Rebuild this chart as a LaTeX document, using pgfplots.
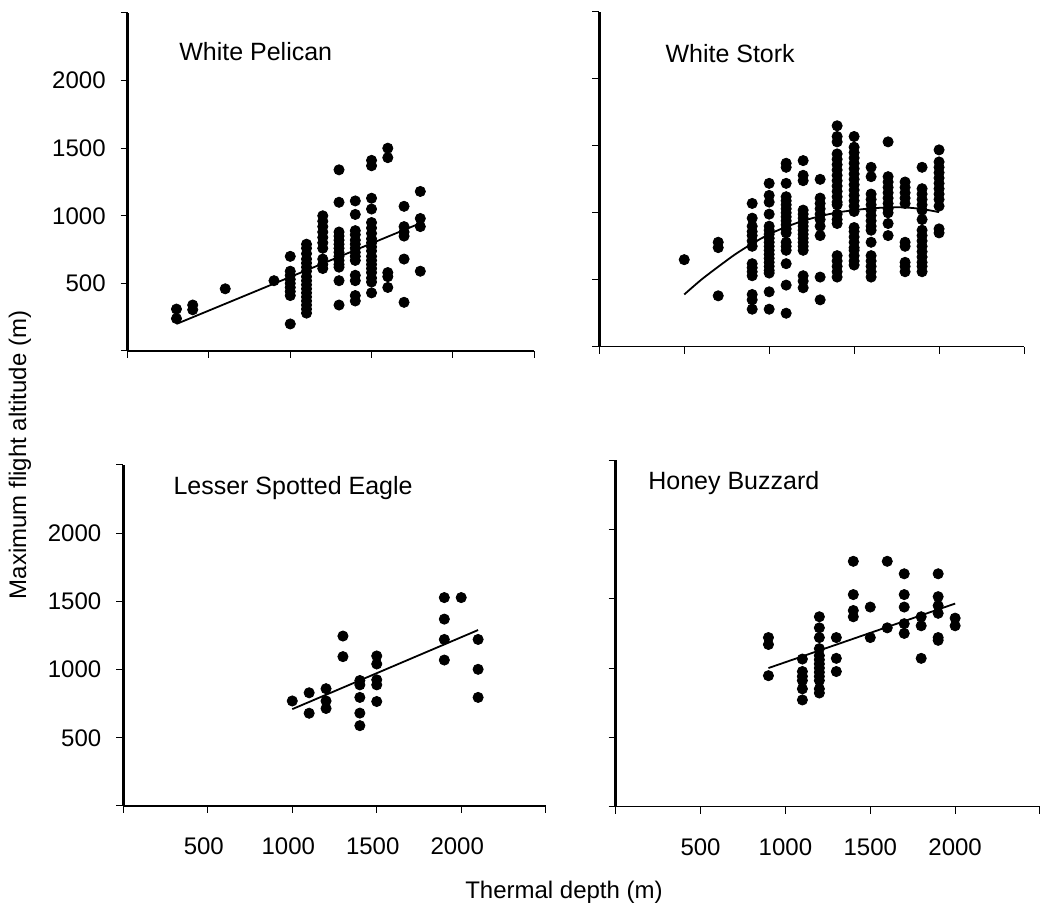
\documentclass[border=0pt]{standalone}
\usepackage{pgfplots}
\pgfplotsset{compat=1.18}
\usepackage{fontspec}
\setmainfont{Liberation Sans}

\pgfplotsset{
  panel/.style={
    scale only axis,
    xmin=0, xmax=2500, ymin=0, ymax=2500,
    axis x line*=bottom, axis y line*=left,
    xtick={0,500,...,2500}, ytick={0,500,...,2500},
    tick align=outside,
    major tick length=3.5pt,
    tick style={black, line width=0.5pt},
    x axis line style={line width=0.6pt},
    y axis line style={line width=1.3pt},
    xticklabels={}, yticklabels={},
    tick label style={font=\fontsize{12}{14}\selectfont},
    xticklabel style={yshift=-9pt},
    yticklabel style={xshift=-4pt},
    clip=false,
  },
  dots/.style={only marks, mark=*, mark size=2.55pt, black},
  fit/.style={no marks, black, line width=0.9pt},
}
\tikzset{ttl/.style={anchor=west, inner sep=0pt, font=\fontsize{12.5}{15}\selectfont}}

\begin{document}
\begin{tikzpicture}
\path[use as bounding box] (0,0) rectangle (520pt,455pt);

% ---------- White Pelican ----------
\begin{axis}[panel, at={(63.85pt,279.5pt)}, anchor=south west,
  width=203.2pt, height=169pt,
  yticklabels={,500,1000,1500,2000,}]
\addplot[dots] coordinates {
(300,310)(300,240)(400,340)(400,305)(600,460)(900,520)
(1000,700)(1000,590)(1000,560)(1000,530)(1000,500)(1000,470)(1000,440)(1000,410)(1000,200)
(1100,790)(1100,760)(1100,720)(1100,680)(1100,650)(1100,620)(1100,590)(1100,550)(1100,520)
(1100,490)(1100,460)(1100,430)(1100,400)(1100,370)(1100,340)(1100,310)(1100,280)
(1200,1000)(1200,960)(1200,920)(1200,880)(1200,840)(1200,800)(1200,760)(1200,680)(1200,640)(1200,610)
(1300,1340)(1300,1100)(1300,880)(1300,850)(1300,820)(1300,790)(1300,760)(1300,730)(1300,700)
(1300,670)(1300,640)(1300,620)(1300,520)(1300,340)
(1400,1110)(1400,1010)(1400,890)(1400,860)(1400,820)(1400,790)(1400,760)(1400,730)(1400,700)
(1400,670)(1400,560)(1400,520)(1400,410)(1400,370)
(1500,1410)(1500,1370)(1500,1130)(1500,1050)(1500,950)(1500,910)(1500,870)(1500,830)(1500,800)
(1500,770)(1500,740)(1500,700)(1500,670)(1500,640)(1500,610)(1500,580)(1500,540)(1500,510)(1500,430)
(1600,1500)(1600,1430)(1600,580)(1600,550)(1600,470)
(1700,1070)(1700,920)(1700,880)(1700,850)(1700,680)(1700,360)
(1800,1180)(1800,980)(1800,920)(1800,590)
};
\addplot[fit] coordinates {(300,200)(1800,945)};
\node[ttl] at (rel axis cs:0.126,0.885) {White Pelican};
\end{axis}

% ---------- White Stork ----------
\begin{axis}[panel, at={(299.65pt,281.65pt)}, anchor=south west,
  width=212.35pt, height=167.35pt]
\addplot[dots] coordinates {
(500,650)
(700,780)(700,740)(700,380)
(900,1070)(900,960)(900,900)(900,860)(900,830)(900,790)(900,750)(900,620)(900,590)(900,560)(900,530)(900,390)(900,350)(900,280)
(1000,1220)(1000,1130)(1000,1080)(1000,990)(1000,900)(1000,870)(1000,840)(1000,810)(1000,780)(1000,750)
(1000,720)(1000,690)(1000,660)(1000,630)(1000,600)(1000,570)(1000,550)(1000,410)(1000,280)
(1100,1370)(1100,1340)(1100,1220)(1100,1120)(1100,1090)(1100,1060)(1100,1030)(1100,1000)(1100,970)
(1100,940)(1100,910)(1100,880)(1100,850)(1100,780)(1100,750)(1100,720)(1100,620)(1100,460)(1100,250)
(1200,1390)(1200,1280)(1200,1240)(1200,1020)(1200,990)(1200,960)(1200,930)(1200,900)(1200,870)
(1200,840)(1200,810)(1200,780)(1200,750)(1200,720)(1200,530)(1200,490)(1200,440)
(1300,1250)(1300,1110)(1300,1070)(1300,1030)(1300,990)(1300,950)(1300,900)(1300,830)(1300,520)(1300,350)
(1400,1650)(1400,1570)(1400,1530)(1400,1440)(1400,1400)(1400,1360)(1400,1320)(1400,1280)(1400,1240)
(1400,1200)(1400,1160)(1400,1120)(1400,1080)(1400,1060)(1400,990)(1400,950)(1400,920)
(1400,680)(1400,640)(1400,600)(1400,560)(1400,520)
(1500,1570)(1500,1490)(1500,1450)(1500,1410)(1500,1370)(1500,1330)(1500,1290)(1500,1250)(1500,1210)
(1500,1170)(1500,1130)(1500,1090)(1500,1050)(1500,1010)(1500,890)(1500,860)(1500,820)(1500,780)
(1500,740)(1500,720)(1500,680)(1500,640)(1500,610)
(1600,1340)(1600,1270)(1600,1140)(1600,1100)(1600,1060)(1600,1020)(1600,980)(1600,940)(1600,900)
(1600,870)(1600,780)(1600,680)(1600,640)(1600,600)(1600,560)(1600,520)
(1700,1530)(1700,1270)(1700,1230)(1700,1190)(1700,1150)(1700,1110)(1700,1070)(1700,1030)(1700,1000)(1700,920)(1700,830)
(1800,1230)(1800,1190)(1800,1150)(1800,1110)(1800,1070)(1800,780)(1800,750)(1800,630)(1800,600)(1800,560)
(1900,1340)(1900,1180)(1900,1140)(1900,1100)(1900,1060)(1900,1020)(1900,950)(1900,870)(1900,830)
(1900,790)(1900,750)(1900,710)(1900,670)(1900,630)(1900,600)(1900,560)
(2000,1470)(2000,1380)(2000,1340)(2000,1300)(2000,1260)(2000,1220)(2000,1180)(2000,1140)(2000,1100)
(2000,1050)(2000,880)(2000,850)
};
\addplot[fit, smooth] coordinates {
(500,390)(600,500)(700,597)(800,690)(900,770)(1000,840)(1100,895)(1200,940)
(1300,975)(1400,1002)(1500,1020)(1600,1033)(1700,1040)(1800,1040)(1900,1028)(2000,1005)};
\node[ttl] at (rel axis cs:0.155,0.877) {White Stork};
\end{axis}

% ---------- Lesser Spotted Eagle ----------
\begin{axis}[panel, at={(61.65pt,52pt)}, anchor=south west,
  width=211.2pt, height=170.5pt,
  yticklabels={,500,1000,1500,2000,},
  xticklabels={,500,1000,1500,2000,},
  xticklabel style={xshift=-2pt}]
\addplot[dots] coordinates {
(1000,770)(1100,830)(1100,680)(1200,860)(1200,770)(1200,715)
(1300,1246)(1300,1095)
(1400,920)(1400,888)(1400,796)(1400,681)(1400,589)
(1500,1100)(1500,1041)(1500,925)(1500,888)(1500,766)
(1900,1528)(1900,1370)(1900,1221)(1900,1070)
(2000,1528)
(2100,1221)(2100,1002)(2100,796)
};
\addplot[fit] coordinates {(1000,710)(2100,1290)};
\node[ttl] at (rel axis cs:0.118,0.933) {Lesser Spotted Eagle};
\end{axis}

% ---------- Honey Buzzard ----------
\begin{axis}[panel, at={(307.85pt,51.65pt)}, anchor=south west,
  width=212.15pt, height=173.3pt,
  xticklabels={,500,1000,1500,2000,}]
\addplot[dots] coordinates {
(900,1220)(900,1170)(900,945)
(1100,1065)(1100,975)(1100,940)(1100,910)(1100,850)(1100,770)
(1200,1370)(1200,1290)(1200,1220)(1200,1140)(1200,1090)(1200,1060)(1200,1030)(1200,1000)
(1200,970)(1200,940)(1200,910)(1200,850)(1200,820)
(1300,1220)(1300,1070)(1300,975)
(1400,1770)(1400,1530)(1400,1415)(1400,1370)
(1500,1440)(1500,1220)
(1600,1770)(1600,1290)
(1700,1680)(1700,1530)(1700,1440)(1700,1320)(1700,1250)
(1800,1370)(1800,1305)(1800,1070)
(1900,1680)(1900,1515)(1900,1450)(1900,1395)(1900,1220)(1900,1200)
(2000,1360)(2000,1305)
};
\addplot[fit] coordinates {(900,1000)(2000,1465)};
\node[ttl] at (rel axis cs:0.076,0.934) {Honey Buzzard};
\end{axis}

\node[rotate=90, font=\fontsize{12}{14}\selectfont] at (10pt,227.5pt) {Maximum flight altitude (m)};
\node[font=\fontsize{12}{14}\selectfont] at (282pt,9pt) {Thermal depth (m)};
\end{tikzpicture}
\end{document}
